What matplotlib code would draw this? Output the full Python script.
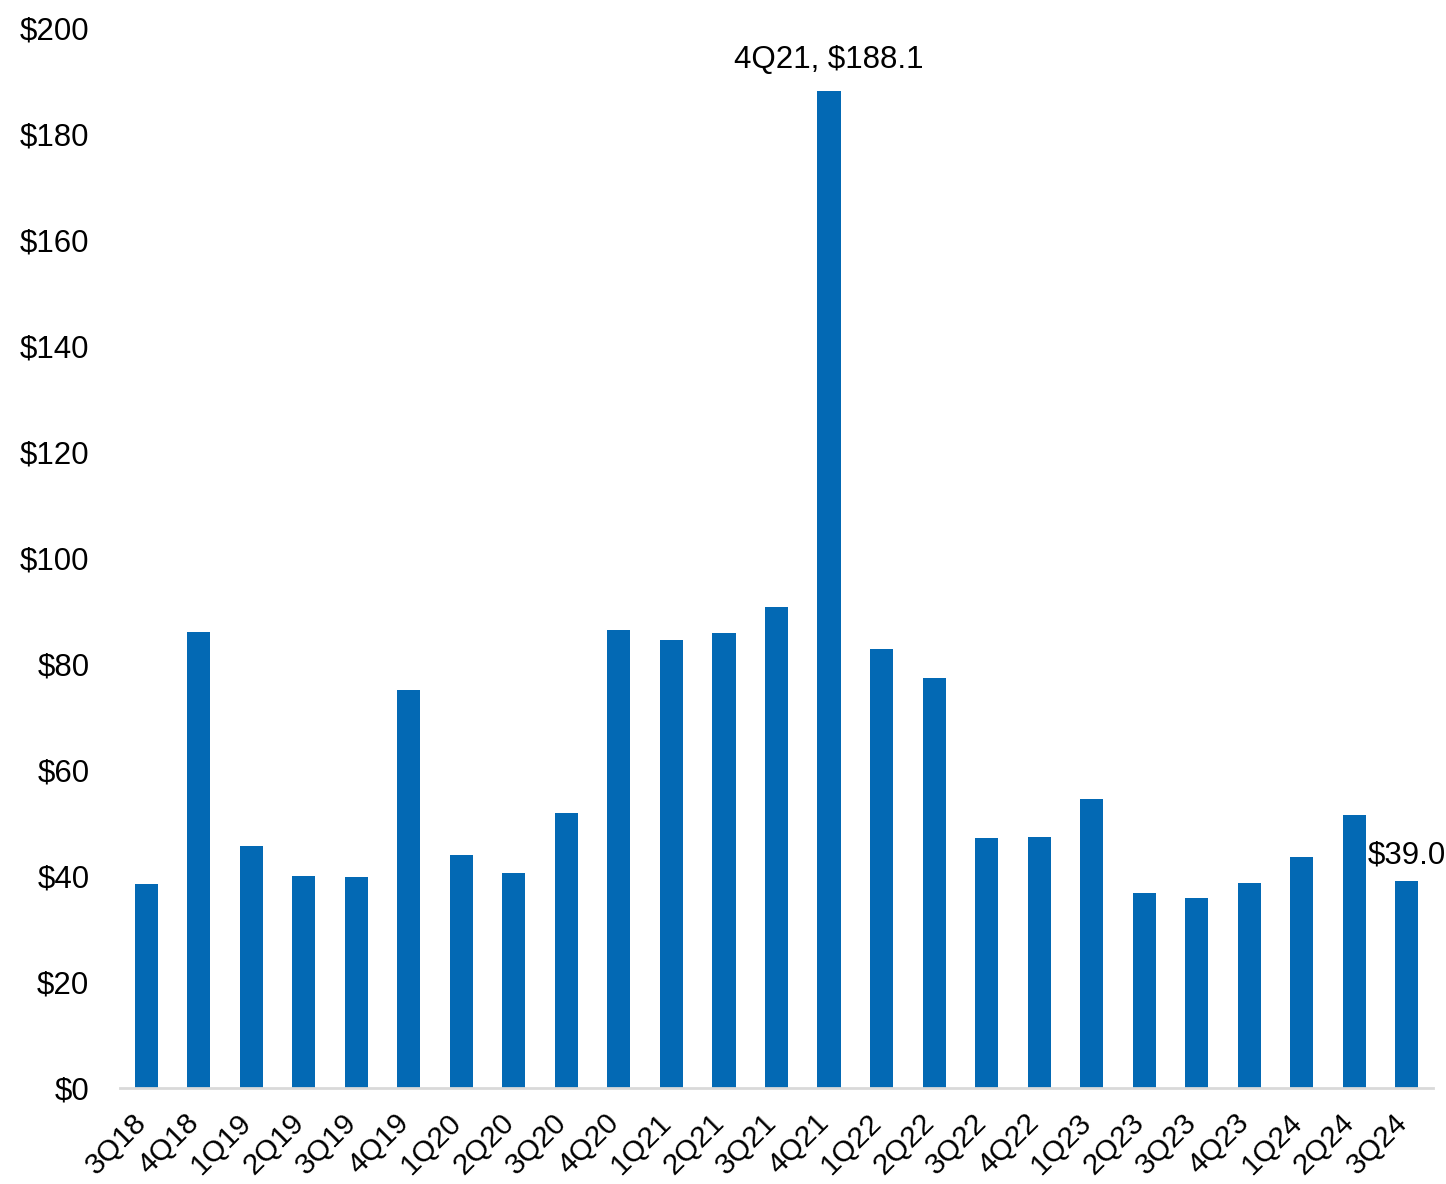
import matplotlib.pyplot as plt
import matplotlib.transforms as mtransforms

plt.rcParams['font.family'] = ['Liberation Sans', 'DejaVu Sans']

quarters = ["3Q18", "4Q18", "1Q19", "2Q19", "3Q19", "4Q19", "1Q20", "2Q20", "3Q20",
            "4Q20", "1Q21", "2Q21", "3Q21", "4Q21", "1Q22", "2Q22", "3Q22", "4Q22",
            "1Q23", "2Q23", "3Q23", "4Q23", "1Q24", "2Q24", "3Q24"]
values = [38.5, 86.0, 45.7, 40.0, 39.8, 75.1, 44.0, 40.6, 51.9,
          86.4, 84.5, 85.8, 90.8, 188.1, 82.8, 77.4, 47.2, 47.4,
          54.5, 36.8, 35.8, 38.7, 43.6, 51.5, 39.0]

fig = plt.figure(figsize=(14.46, 11.84), dpi=100)
ax = fig.add_axes([0.083, 0.081, 0.908, 0.895])

x = list(range(len(quarters)))
ax.bar(x, values, width=0.44, color="#0369b4")

ax.set_xlim(-0.5, len(quarters) - 0.5)
ax.set_ylim(0, 200)
ax.set_yticks(range(0, 201, 20))
ax.set_yticklabels(["$" + str(v) for v in range(0, 201, 20)], fontsize=22.5)
ax.set_xticks(x)
ax.set_xticklabels(quarters, fontsize=21.5, rotation=45, ha="right", va="center",
                   rotation_mode="anchor")
ax.tick_params(length=0, axis="both")
ax.tick_params(axis="y", pad=22)
ax.tick_params(axis="x", pad=22)

# nudge rotated labels a little left so their ends sit under the bars
shift = mtransforms.ScaledTranslation(-4 / 100, 0, fig.dpi_scale_trans)
for lab in ax.get_xticklabels():
    lab.set_transform(lab.get_transform() + shift)

for s in ["top", "right", "left"]:
    ax.spines[s].set_visible(False)
ax.spines["bottom"].set_color("#d9d9d9")
ax.spines["bottom"].set_linewidth(2)

i_peak = quarters.index("4Q21")
ax.annotate(quarters[i_peak] + ", $" + f"{values[i_peak]:.1f}", (i_peak, values[i_peak]),
            xytext=(0, 12), textcoords="offset points", ha="center", va="bottom", fontsize=22.5)
i_last = len(quarters) - 1
ax.annotate("$" + f"{values[i_last]:.1f}", (i_last, values[i_last]),
            xytext=(0, 8), textcoords="offset points", ha="center", va="bottom", fontsize=22.5,
            annotation_clip=False)

fig.savefig("out.png", dpi=100)
